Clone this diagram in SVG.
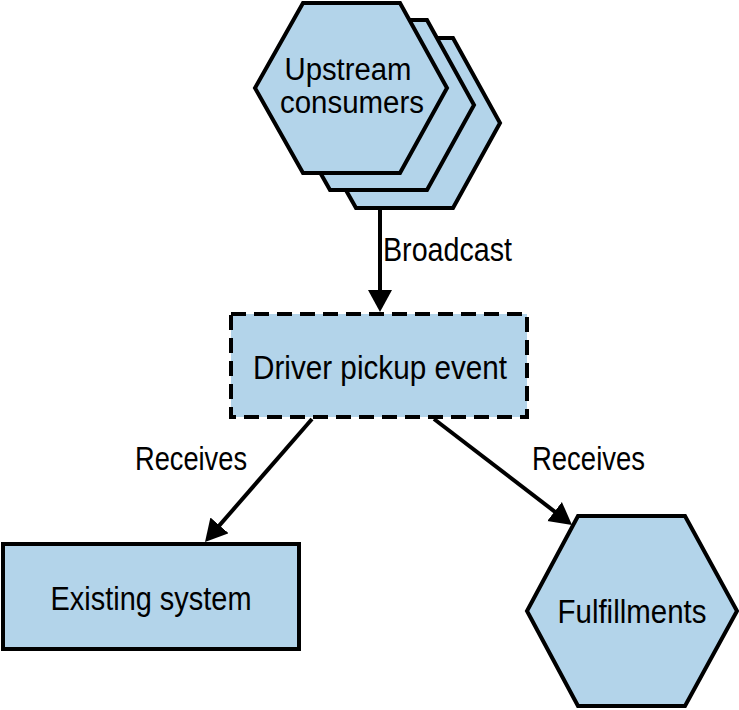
<svg xmlns="http://www.w3.org/2000/svg" width="739" height="710" viewBox="0 0 739 710">
<style>
.shape{fill:#b3d4ea;stroke:#000;stroke-width:4;stroke-linejoin:miter}
.dash{fill:#b3d4ea;stroke:#000;stroke-width:4;stroke-dasharray:15 8}
.lbl{font-family:"Liberation Sans",Arial,sans-serif;font-size:34px;fill:#000}
.sm{font-size:31px}
.conn{stroke:#000;stroke-width:4;fill:none}
</style>
<defs>
<marker id="arr" markerUnits="userSpaceOnUse" markerWidth="24" markerHeight="26" refX="10" refY="12" orient="auto">
<path d="M0,0 L22,12 L0,24 z" fill="#000"/>
</marker>
<polygon id="hexU" points="303,3 400,3 447,88 400,173 303,173 255,88"/>
</defs>
<g id="upstream-consumers">
<use href="#hexU" class="shape" transform="translate(53,35)"/>
<use href="#hexU" class="shape" transform="translate(27,17)"/>
<use href="#hexU" class="shape"/>
<text class="lbl sm" x="348" y="80" text-anchor="middle" textLength="127" lengthAdjust="spacingAndGlyphs">Upstream</text>
<text class="lbl sm" x="352" y="113" text-anchor="middle" textLength="144" lengthAdjust="spacingAndGlyphs">consumers</text>
</g>
<g id="driver-pickup-event">
<rect class="dash" x="231" y="314" width="296" height="103"/>
<text class="lbl" x="380" y="379" text-anchor="middle" textLength="254" lengthAdjust="spacingAndGlyphs">Driver pickup event</text>
</g>
<g id="existing-system">
<rect class="shape" x="3" y="544" width="296" height="105"/>
<text class="lbl" x="151" y="610" text-anchor="middle" textLength="201" lengthAdjust="spacingAndGlyphs">Existing system</text>
</g>
<g id="fulfillments">
<polygon class="shape" points="578,516 685,516 737,611 685,706 578,706 527,611"/>
<text class="lbl" x="632" y="623" text-anchor="middle" textLength="149" lengthAdjust="spacingAndGlyphs">Fulfillments</text>
</g>
<g id="connectors">
<line class="conn" x1="380" y1="208" x2="380" y2="300" marker-end="url(#arr)"/>
<line class="conn" x1="312" y1="419" x2="212.9" y2="532.9" marker-end="url(#arr)"/>
<line class="conn" x1="434" y1="419" x2="562.5" y2="517.6" marker-end="url(#arr)"/>
<text class="lbl" x="383" y="261" textLength="129" lengthAdjust="spacingAndGlyphs">Broadcast</text>
<text class="lbl" x="135" y="470" textLength="112" lengthAdjust="spacingAndGlyphs">Receives</text>
<text class="lbl" x="532" y="470" textLength="113" lengthAdjust="spacingAndGlyphs">Receives</text>
</g>
</svg>
